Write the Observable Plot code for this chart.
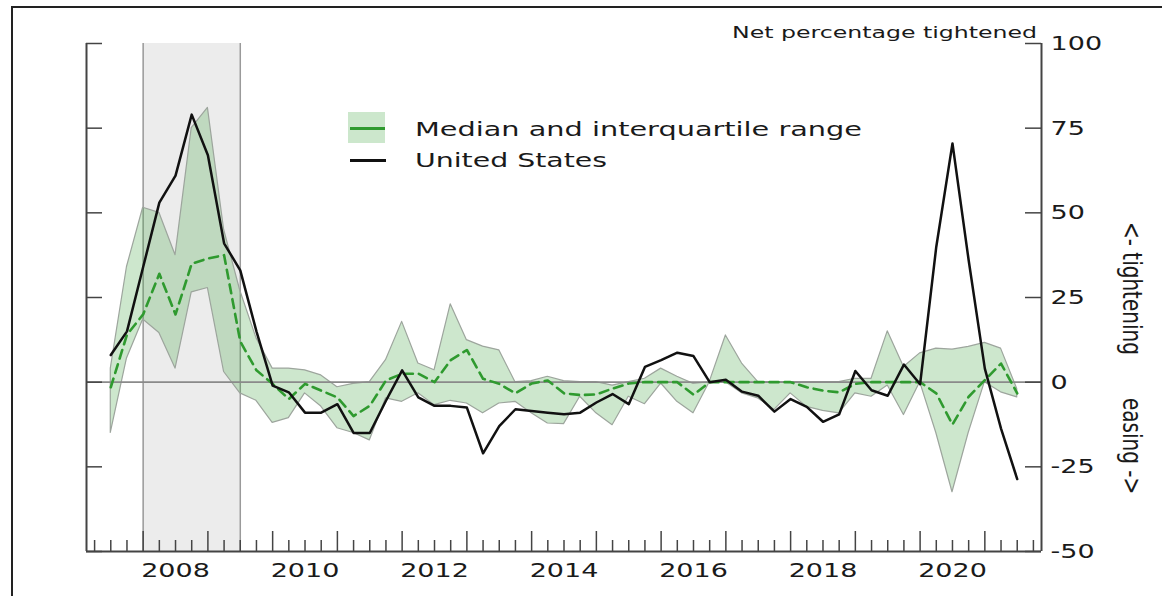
<!DOCTYPE html>
<html><head><meta charset="utf-8">
<script src="https://cdn.jsdelivr.net/npm/d3@7"></script>
<script src="https://cdn.jsdelivr.net/npm/@observablehq/plot@0.6"></script>
<style>
body{margin:0;background:#fff;}
#wrap{position:relative;width:1162px;height:596px;overflow:hidden;font-family:"DejaVu Sans",sans-serif;}
#wrap svg{position:absolute;left:0;top:0;}
.frame{position:absolute;left:11px;top:6px;width:1200px;height:700px;border-top:2px solid #222;border-left:2px solid #222;box-sizing:border-box;}
.lab{position:absolute;white-space:nowrap;color:#1a1a1a;line-height:20px;transform-origin:0 50%;}
.sw{position:absolute;}
</style></head><body><div id="wrap"></div>
<script>
// ---- data (quarterly) ----
const quarters = ["2007Q3","2007Q4",
 "2008Q1","2008Q2","2008Q3","2008Q4","2009Q1","2009Q2","2009Q3","2009Q4",
 "2010Q1","2010Q2","2010Q3","2010Q4","2011Q1","2011Q2","2011Q3","2011Q4",
 "2012Q1","2012Q2","2012Q3","2012Q4","2013Q1","2013Q2","2013Q3","2013Q4",
 "2014Q1","2014Q2","2014Q3","2014Q4","2015Q1","2015Q2","2015Q3","2015Q4",
 "2016Q1","2016Q2","2016Q3","2016Q4","2017Q1","2017Q2","2017Q3","2017Q4",
 "2018Q1","2018Q2","2018Q3","2018Q4","2019Q1","2019Q2","2019Q3","2019Q4",
 "2020Q1","2020Q2","2020Q3","2020Q4","2021Q1","2021Q2","2021Q3"];
const unitedStates = [8,15,34,53,61,79,67,41,33,15,-1,-3,-9,-9,-6.5,-15,-15,-5.5,3.5,-4.5,-7,-7,-7.5,-21,-13,-8,-8.5,-9,-9.5,-9,-6,-3.5,-6.5,4.5,6.5,8.7,7.7,0,0.7,-2.8,-4,-8.7,-5,-7.3,-11.7,-9.5,3.3,-2.4,-4,5.2,-0.6,40,70.5,36,4,-13.7,-28.6];
const median = [-1.5,14,20,32,20,35,36.5,37.5,12,3.5,-0.5,-5,-0.5,-2.5,-4.5,-10,-7,0.5,2.5,2.5,0,6.5,9.5,1,-0.5,-3.3,-0.4,0.5,-3.3,-3.8,-3.6,-1.9,-0.4,0,0,0,-3.7,0,0,0,0,0,0,-1.5,-2.5,-3,-0.5,0,0,0,0,-3.3,-12.5,-4.3,0.6,5.5,-3.3];
const upperQuartile = [4,34,51.5,50,37.5,75,81,45,27,13,4,4,3.5,2,-1.5,-0.5,0,6.5,17.8,5.5,3.5,23,12.4,10.5,9.4,0,0.3,1.6,0.3,0,0,-1,0,1,4,1.6,-0.5,0,13.8,5.5,0,0,0,0,0,0,1,1,15,4.5,8.5,9.9,9.6,10.4,11.6,9.9,-2];
const lowerQuartile = [-15,7,18.5,14.5,4,26.5,27.8,3,-3.3,-5.5,-12,-10.6,-3.3,-7.2,-13.6,-15,-17.2,-4.8,-5.8,-3.3,-6.8,-5.5,-6.3,-9.2,-6.3,-5.8,-9.2,-12.2,-12.4,-4.3,-9.2,-12.7,-4.3,-6.5,-0.4,-5.8,-9.2,0,0,-3.3,-4.8,-8.2,-3.3,-7.3,-8.5,-9.2,-3.3,-4.3,-1,-9.7,0,-15,-32.5,-15,0,-3,-4.5];
const recessions = [{start: 2008.0, end: 2009.5}];
const yearTicks = [2008,2009,2010,2011,2012,2013,2014,2015,2016,2017,2018,2019,2020,2021];
const labelYears = [2008,2010,2012,2014,2016,2018,2020];
const yTicks = [-50,-25,0,25,50,75,100];
const xDomain = [2007.125, 2021.875];
const yDomain = [-50, 100];
const legendLabels = ["Median and interquartile range","United States"];
const unitLabel = "Net percentage tightened";
const sideLabels = ["<- tightening","easing ->"];

// ---- build table ----
const toT = q => +q.slice(0,4) + (+q.slice(5) - 1) / 4;
const rows = quarters.map((q,i) => ({t: toT(q), us: unitedStates[i], med: median[i], p25: lowerQuartile[i], p75: upperQuartile[i]}));
const quarterTicks = [2007, ...yearTicks].flatMap(y => [y+0.25, y+0.5, y+0.75]).filter(v => v > xDomain[0] && v < xDomain[1]);

const W = 1162, H = 596, mL = 86, mR = 121, mT = 43, mB = 45;
const pw = W - mL - mR, ph = H - mT - mB;
const axisCol = "#444";

const chart = Plot.plot({
  width: W, height: H,
  marginLeft: mL, marginRight: mR, marginTop: mT, marginBottom: mB,
  style: {fontFamily: '"DejaVu Sans", sans-serif', fontSize: "20px", color: "#222", background: "transparent", overflow: "visible"},
  x: {domain: xDomain},
  y: {domain: yDomain},
  marks: [
    Plot.rect(recessions, {x1: "start", x2: "end", fill: "#ececec"}),
    Plot.ruleX(recessions.flatMap(r => [r.start, r.end]), {stroke: "#9a9a9a", strokeWidth: 1.5}),
    Plot.areaY(rows, {x: "t", y1: "p25", y2: "p75", fill: "#45a845", fillOpacity: 0.27, stroke: "#9da59d", strokeWidth: 1.2}),
    Plot.ruleY([0], {stroke: "#8a8a8a", strokeWidth: 1.6}),
    Plot.line(rows, {x: "t", y: "med", stroke: "#2f9a2f", strokeWidth: 2.6, strokeDasharray: "9,6"}),
    Plot.line(rows, {x: "t", y: "us", stroke: "#111", strokeWidth: 2.5}),
    Plot.ruleX(xDomain, {stroke: axisCol, strokeWidth: 2}),
    Plot.ruleY([yDomain[0]], {stroke: axisCol, strokeWidth: 2}),
    Plot.tickY(yTicks, {y: d => d, stroke: axisCol, strokeWidth: 1.5, insetRight: pw - 16}),
    Plot.tickY(yTicks, {y: d => d, stroke: axisCol, strokeWidth: 1.5, insetLeft: pw - 16}),
    Plot.tickX(yearTicks, {x: d => d, stroke: axisCol, strokeWidth: 1.5, insetTop: ph - 20}),
    Plot.tickX(quarterTicks, {x: d => d, stroke: axisCol, strokeWidth: 1.5, insetTop: ph - 11}),
    Plot.axisY({ticks: yTicks, anchor: "right", tickSize: 0, tickPadding: 9, tickFormat: d => String(d)}),
    Plot.axisX({ticks: labelYears.map(y => y + 0.5), anchor: "bottom", tickSize: 0, tickPadding: 11, tickFormat: d => String(Math.floor(d))})
  ]
});

const wrap = document.getElementById("wrap");
wrap.appendChild(chart);
const frame = document.createElement("div"); frame.className = "frame"; wrap.appendChild(frame);

// stretch horizontal tick labels (reference is horizontally stretched)
chart.querySelectorAll('g[aria-label="y-axis tick label"] text, g[aria-label="x-axis tick label"] text').forEach(t => {
  const w = t.getComputedTextLength();
  t.setAttribute("textLength", (w * 1.35).toFixed(1));
  t.setAttribute("lengthAdjust", "spacingAndGlyphs");
  t.setAttribute("fill", "#1a1a1a");
});

function addLabel(text, left, cy, size, target) {
  const d = document.createElement("div");
  d.className = "lab"; d.textContent = text;
  d.style.fontSize = size + "px"; d.style.lineHeight = size + "px";
  d.style.left = left + "px"; d.style.top = (cy - size/2) + "px";
  wrap.appendChild(d);
  const w = d.getBoundingClientRect().width;
  d.style.transform = `scaleX(${target / w})`;
  return d;
}
function addBox(left, top, w, h, bg) {
  const d = document.createElement("div"); d.className = "sw";
  Object.assign(d.style, {left: left+"px", top: top+"px", width: w+"px", height: h+"px", background: bg});
  wrap.appendChild(d);
}
// legend
addBox(348, 112, 37, 31, "rgb(204,231,204)");
addBox(350, 127, 35, 2.6, "#2f9a2f");
addBox(350, 159, 36, 2.6, "#111");
addLabel(legendLabels[0], 415, 129, 20, 447);
addLabel(legendLabels[1], 415, 160, 20, 192);
// unit label
addLabel(unitLabel, 732, 33, 16, 305);
// side labels
function addSide(text, top) {
  const d = document.createElement("div");
  d.textContent = text;
  Object.assign(d.style, {position: "absolute", left: "1121px", top: top + "px", writingMode: "vertical-rl", fontSize: "20px", lineHeight: "22px", whiteSpace: "nowrap", color: "#1a1a1a", transform: "scaleX(1.3)", transformOrigin: "50% 50%"});
  wrap.appendChild(d);
}
addSide(sideLabels[0], 222);
addSide(sideLabels[1], 398);
</script></body></html>
